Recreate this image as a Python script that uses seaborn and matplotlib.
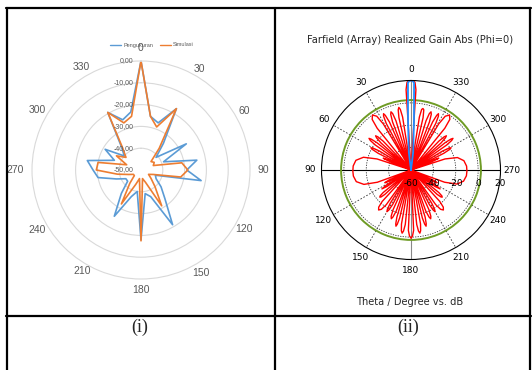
import numpy as np
import pandas as pd
import matplotlib
matplotlib.use("Agg")
import matplotlib.pyplot as plt
from matplotlib.lines import Line2D
import seaborn as sns

# ---------------- chart (i): Excel radar (dB) ----------------
angle_deg = list(range(0, 360, 10))
pengukuran = [0, -25, -27, -17.5, -34, -41, -26, -39, -24, -29,
              -22, -43, -42, -38, -33, -21, -37, -39, -18, -40,
              -37, -25.5, -36, -42, -42, -38, -30, -28, -25, -37,
              -31, -40, -36, -19.5, -25.5, -23]
simulasi = [0, -25, -29, -17.5, -37, -44, -43, -44, -31, -28.5,
            -31.5, -44, -46, -44, -40, -31, -44, -46, -17.5, -46,
            -43, -32, -42, -46, -46, -44, -39, -29.5, -30, -43,
            -37, -41, -37, -19.5, -27, -25]
radar_rticks = [0, -10, -20, -30, -40, -50]
radar_rlabels = ["0,00", "-10,00", "-20,00", "-30,00", "-40,00", "-50,00"]
radar_angle_labels = [0, 30, 60, 90, 120, 150, 180, 210, 240, 270, 300, 330]
series_names = ["Pengukuran", "Simulasi"]

# ---------------- chart (ii): CST farfield (dB) ----------------
red_theta = [0, 1.5, 2.6, 3.5, 4.2,
             9, 10, 11, 12, 13, 14.5,
             17, 18, 19, 20, 21, 22.5,
             24.2, 25.2, 26, 27, 28, 29.3,
             31, 32.5, 35, 37.5, 39, 40.5,
             44, 45, 46, 47, 48, 49.5,
             51.3, 52.2, 53, 54, 55, 56.5,
             59, 60, 61, 62, 63, 64.5,
             66, 67, 68, 69.5,
             72, 75, 80, 86, 91, 96, 102, 107, 110, 112,
             114.5, 116, 117.5, 119,
             121.5, 123, 124.5, 126,
             129, 130, 131, 132, 133, 135,
             137.5, 139, 141, 143, 144.5, 146,
             148, 149, 150, 151, 152, 153.5,
             155.7, 156.8, 158, 159, 160.2, 161.5,
             163.3, 164.2, 165, 165.8, 166.7, 168,
             170, 171, 172, 173, 174, 175.5,
             177.5, 178.7, 180, 181.3, 182.5, 184.5,
             186, 187, 188, 189, 190, 191.5,
             193.3, 194.2, 195, 195.8, 196.7, 198,
             199.8, 201, 202, 203.2, 204.3, 206,
             208, 209, 210, 211, 212, 213.5,
             215.5, 217, 219, 221, 222.5, 224.5,
             227, 228, 229, 230, 231, 233,
             235.5, 237, 238.5, 240,
             242.5, 244, 245.5, 247,
             250, 253, 258, 264, 269, 274, 280, 285, 288, 290.5,
             292, 293, 294, 295.5,
             297, 298, 299, 300, 301, 302.5,
             305, 306, 307, 307.8, 308.7, 310,
             312, 313, 314, 315, 316, 318,
             321, 322.5, 325, 327.5, 329, 330.5,
             332, 333, 334, 334.8, 335.8, 337,
             339, 340, 341, 342, 343, 344.5,
             347, 348, 349, 350, 351, 355.8,
             356.5, 357.4, 358.5, 360]
red_gain = [20, 19.8, 18.5, 12, -60,
            -12, -5, -3, -5, -12, -60,
            -14, -7, -5, -7, -14, -60,
            -13, -6, -4, -6, -13, -60,
            -12, -3, 0, -3, -12, -60,
            -24, -18, -16, -18, -24, -60,
            -21, -15, -13, -15, -21, -60,
            -27, -21, -19, -21, -27, -60,
            -38, -33, -38, -60,
            -28, -16, -10, -8.2, -8, -8.2, -10, -16, -28, -60,
            -38, -34, -38, -60,
            -34, -29, -34, -60,
            -28, -24, -23, -24, -28, -60,
            -22, -16, -14, -16, -22, -60,
            -25, -19, -17, -19, -25, -60,
            -21, -15, -13, -15, -21, -60,
            -16, -10, -8, -10, -16, -60,
            -11, -5, -3, -5, -11, -60,
            -6, -1, 1, -1, -6, -60,
            -11, -5, -3, -5, -11, -60,
            -16, -10, -8, -10, -16, -60,
            -21, -15, -13, -15, -21, -60,
            -25, -19, -17, -19, -25, -60,
            -22, -16, -14, -16, -22, -60,
            -28, -24, -23, -24, -28, -60,
            -34, -29, -34, -60,
            -38, -34, -38, -60,
            -28, -17, -12, -10.2, -10, -10.2, -12, -17, -28, -60,
            -38, -33, -38, -60,
            -27, -21, -19, -21, -27, -60,
            -21, -15, -13, -15, -21, -60,
            -24, -18, -16, -18, -24, -60,
            -12, -3, 0, -3, -12, -60,
            -13, -6, -4, -6, -13, -60,
            -14, -7, -5, -7, -14, -60,
            -12, -5, -4, -5, -12, -60,
            12, 18.5, 19.8, 20]
blue_theta = [351, 353, 356.6, 358, 359, 360, 361, 362, 363.4, 367, 369]
blue_gain = [-60, -44, -15, 18, 19.7, 20, 19.7, 18, -15, -44, -60]
green_level = 2.5
cst_rticks = [-60, -40, -20, 0, 20]
cst_angle_labels = [0, 30, 60, 90, 120, 150, 180, 210, 240, 270, 300, 330]
cst_title = "Farfield (Array) Realized Gain Abs (Phi=0)"
cst_xlabel = "Theta / Degree vs. dB"
captions = ["(i)", "(ii)"]

assert len(red_theta) == len(red_gain)

# ---------------- figure ----------------
sns.set_style("white")
plt.rcParams["font.family"] = ["DejaVu Sans"]

W, H = 532, 370
fig = plt.figure(figsize=(W / 100, H / 100), dpi=100)
fig.patch.set_facecolor("white")


def rect(cx, cy, r):
    return [(cx - r) / W, (H - cy - r) / H, 2 * r / W, 2 * r / H]


# ----- chart (i) -----
EX_BLUE, EX_ORANGE, EX_GREY = "#5B9BD5", "#ED7D31", "#595959"
R1 = 109.0  # pixel radius of the 0 dB ring
ax1 = fig.add_axes(rect(141, 170, R1), projection="polar")
ax1.set_theta_zero_location("N")
ax1.set_theta_direction(-1)
th = np.deg2rad(angle_deg + [angle_deg[0]])
df1 = pd.DataFrame({"theta": th,
                    "Pengukuran": pengukuran + [pengukuran[0]],
                    "Simulasi": simulasi + [simulasi[0]]})
sns.lineplot(data=df1, x="theta", y="Pengukuran", ax=ax1, sort=False,
             estimator=None, color=EX_BLUE, lw=1.2, legend=False)
sns.lineplot(data=df1, x="theta", y="Simulasi", ax=ax1, sort=False,
             estimator=None, color=EX_ORANGE, lw=1.2, legend=False)
ax1.set_ylim(-50, 0)
ax1.set_yticks([-40, -30, -20, -10])
ax1.set_yticklabels([])
ax1.set_xticks([])
ax1.set_xlabel("")
ax1.set_ylabel("")
ax1.yaxis.grid(True, color="#D9D9D9", lw=0.8)
ax1.spines["polar"].set_color("#D9D9D9")
ax1.spines["polar"].set_linewidth(0.8)
ax1.set_facecolor("none")
for v, lab in zip(radar_rticks, radar_rlabels):
    ax1.annotate(lab, xy=(0, v), xytext=(-5.5, 0), textcoords="offset points",
                 ha="right", va="center", fontsize=5, color=EX_GREY,
                 family="Liberation Sans")
# category labels sit just outside the outer ring (pixel distance from centre)
label_px = [122, 117, 119, 122, 119, 119, 120, 117, 120, 126, 120, 119]
for a, px in zip(radar_angle_labels, label_px):
    ax1.text(np.deg2rad(a), -50 + 50 * px / R1, str(a), ha="center", va="center",
             fontsize=7.5, color=EX_GREY, family="Liberation Sans")
handles = [Line2D([], [], color=EX_BLUE, lw=1.0), Line2D([], [], color=EX_ORANGE, lw=1.0)]
fig.legend(handles, series_names, loc="center", bbox_to_anchor=(152 / W, 1 - 45 / H),
           ncol=2, frameon=False, handlelength=2.0, columnspacing=1.3,
           handletextpad=0.3, prop={"family": "Liberation Sans", "size": 4},
           labelcolor=EX_GREY)

# ----- chart (ii) -----
ax2 = fig.add_axes(rect(411, 170, 89.5), projection="polar")
ax2.set_theta_zero_location("N")
ax2.set_theta_direction(1)
ax2.set_ylim(-60, 20)
ax2.set_yticks([-40, -20, 0])
ax2.set_yticklabels([])
ax2.yaxis.grid(True, color="#333333", ls=(0, (1.5, 1.5)), lw=0.6)
ax2.set_xticks(np.deg2rad([30, 60, 120, 150, 210, 240, 300, 330]))
ax2.set_xticklabels([])
ax2.xaxis.grid(True, color="#333333", ls=(0, (2, 2)), lw=0.6)
ax2.axvline(np.deg2rad(90), color="black", lw=0.8)
ax2.axvline(np.deg2rad(270), color="black", lw=0.8)
ax2.axvline(np.deg2rad(180), color="#888888", lw=0.8)
ax2.axvline(0, color="#888888", lw=0.8)
ax2.axhline(green_level, color="#6E9B25", lw=1.4)
sns.lineplot(x=np.deg2rad(red_theta), y=red_gain, ax=ax2, sort=False,
             estimator=None, color="#FF0000", lw=1.0, legend=False)
sns.lineplot(x=np.deg2rad(blue_theta), y=blue_gain, ax=ax2, sort=False,
             estimator=None, color="#1E8CFF", lw=1.3, legend=False)
ax2.set_ylim(-60, 20)
ax2.set_xlabel("")
ax2.set_ylabel("")
ax2.spines["polar"].set_color("black")
ax2.spines["polar"].set_linewidth(0.8)
ax2.set_facecolor("none")
for a in cst_angle_labels:
    ax2.text(np.deg2rad(a), 30, str(a), ha="center", va="center", fontsize=6.5,
             color="black")
for v in cst_rticks:
    ax2.annotate(str(v), xy=(np.deg2rad(270), v), xytext=(0, -9.5),
                 textcoords="offset points", ha="center", va="center",
                 fontsize=6.5, color="black")
fig.text(410 / W, 1 - 40 / H, cst_title, ha="center", va="center", fontsize=7.1)
fig.text(410 / W, 1 - 302 / H, cst_xlabel, ha="center", va="center", fontsize=7.1)

# ----- table frame and captions -----
def hline(y, x0, x1):
    fig.add_artist(Line2D([x0 / W, x1 / W], [1 - y / H, 1 - y / H], color="black",
                          lw=1.6, transform=fig.transFigure))


def vline(x, y0, y1):
    fig.add_artist(Line2D([x / W, x / W], [1 - y0 / H, 1 - y1 / H], color="black",
                          lw=1.6, transform=fig.transFigure))


hline(8, 6.4, 530.6)
hline(316, 6.4, 530.6)
vline(7, 8, 370)
vline(275, 8, 370)
vline(530, 8, 370)

fig.text(140 / W, 1 - 327 / H, captions[0], ha="center", va="center", fontsize=13,
         family="Liberation Serif")
fig.text(408 / W, 1 - 327 / H, captions[1], ha="center", va="center", fontsize=13,
         family="Liberation Serif")

fig.savefig("out.png", dpi=100, facecolor="white")
